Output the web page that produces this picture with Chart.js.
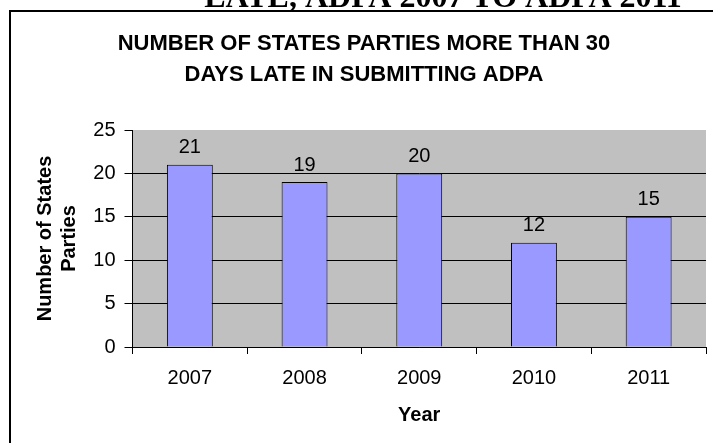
<!DOCTYPE html>
<html>
<head>
<meta charset="utf-8">
<title>States Parties late in submitting ADPA</title>
<script src="https://cdn.jsdelivr.net/npm/chart.js@4.4.1/dist/chart.umd.min.js"></script>
<style>
  html, body { margin: 0; padding: 0; background: #fff; }
  canvas { display: block; }
</style>
</head>
<body>
<canvas id="lateChart" width="713" height="443"></canvas>
<script>
(function () {
    'use strict';

    var years = ['2007', '2008', '2009', '2010', '2011'];
    var lateStates = [21, 19, 20, 12, 15];
    var yTicks = [0, 5, 10, 15, 20, 25];
    var chartTitle = ['NUMBER OF STATES PARTIES MORE THAN 30', 'DAYS LATE IN SUBMITTING ADPA'];
    var pageHeading = 'LATE, ADPA 2007 TO ADPA 2011';
    var yTitle = ['Number of States', 'Parties'];
    var xTitle = 'Year';

    var SANS = "Arial, 'Liberation Sans', sans-serif";
    var SERIF = "'Times New Roman', 'Liberation Serif', serif";

    // white page, frame, the cut-off heading above it, title and grey plot area
    var decorations = {
        id: 'decorations',
        beforeDraw: function (chart) {
            var ctx = chart.ctx;
            var area = chart.chartArea;
            ctx.save();
            ctx.fillStyle = '#fff';
            ctx.fillRect(0, 0, chart.width, chart.height);

            ctx.fillStyle = '#000';
            ctx.font = 'bold 32px ' + SERIF;
            ctx.textAlign = 'center';
            ctx.textBaseline = 'alphabetic';
            ctx.fillText(pageHeading, 443, 7);

            ctx.strokeStyle = '#000';
            ctx.lineWidth = 2;
            ctx.beginPath();
            ctx.moveTo(chart.width, 11);
            ctx.lineTo(10, 11);
            ctx.lineTo(10, chart.height);
            ctx.stroke();

            ctx.font = 'bold 22px ' + SANS;
            ctx.textBaseline = 'middle';
            chartTitle.forEach(function (line, i) {
                ctx.fillText(line, 364, 44 + i * 31);
            });

            ctx.fillStyle = '#c0c0c0';
            ctx.fillRect(area.left, area.top, area.right - area.left, area.bottom - area.top);
            ctx.restore();
        }
    };

    // value above each bar
    var barValues = {
        id: 'barValues',
        afterDatasetsDraw: function (chart) {
            var ctx = chart.ctx;
            var meta = chart.getDatasetMeta(0);
            ctx.save();
            ctx.fillStyle = '#000';
            ctx.font = '20px ' + SANS;
            ctx.textAlign = 'center';
            ctx.textBaseline = 'middle';
            meta.data.forEach(function (bar, i) {
                ctx.fillText(String(lateStates[i]), bar.x, bar.y - 17);
            });
            ctx.restore();
        }
    };

    new Chart(document.getElementById('lateChart').getContext('2d'), {
        type: 'bar',
        data: {
            labels: years,
            datasets: [{
                label: 'States Parties',
                data: lateStates,
                backgroundColor: '#9999ff',
                borderColor: '#000',
                borderWidth: 1,
                categoryPercentage: 1,
                barPercentage: 0.4
            }]
        },
        options: {
            responsive: false,
            devicePixelRatio: 1,
            animation: false,
            layout: { padding: { top: 130, right: 7, bottom: 0, left: 0 } },
            plugins: {
                legend: { display: false },
                tooltip: { enabled: false }
            },
            scales: {
                x: {
                    offset: true,
                    grid: { display: true, drawOnChartArea: false, offset: true, color: '#000', tickLength: 7 },
                    border: { display: true, color: '#000', width: 1 },
                    ticks: { color: '#000', font: { size: 20, family: SANS }, padding: 12, maxRotation: 0 },
                    title: {
                        display: true,
                        text: xTitle,
                        color: '#000',
                        font: { size: 20, weight: 'bold', family: SANS },
                        padding: { top: 0, bottom: 16 }
                    },
                    afterFit: function (scale) { scale.height = 96; }
                },
                y: {
                    min: 0,
                    max: 25,
                    afterBuildTicks: function (scale) {
                        scale.ticks = yTicks.map(function (v) { return { value: v }; });
                    },
                    grid: {
                        color: function (c) {
                            return c.tick && c.tick.value === 25 ? 'rgba(0,0,0,0)' : '#000';
                        },
                        tickColor: '#000',
                        tickLength: 8,
                        lineWidth: 1
                    },
                    border: { display: true, color: '#000', width: 1 },
                    ticks: { color: '#000', font: { size: 20, family: SANS }, padding: 9 },
                    title: {
                        display: true,
                        text: yTitle,
                        color: '#000',
                        font: { size: 20, weight: 'bold', family: SANS },
                        padding: { top: 33, bottom: 0 }
                    },
                    afterFit: function (scale) { scale.width = 132.5; }
                }
            }
        },
        plugins: [decorations, barValues]
    });
})();
</script>
</body>
</html>
